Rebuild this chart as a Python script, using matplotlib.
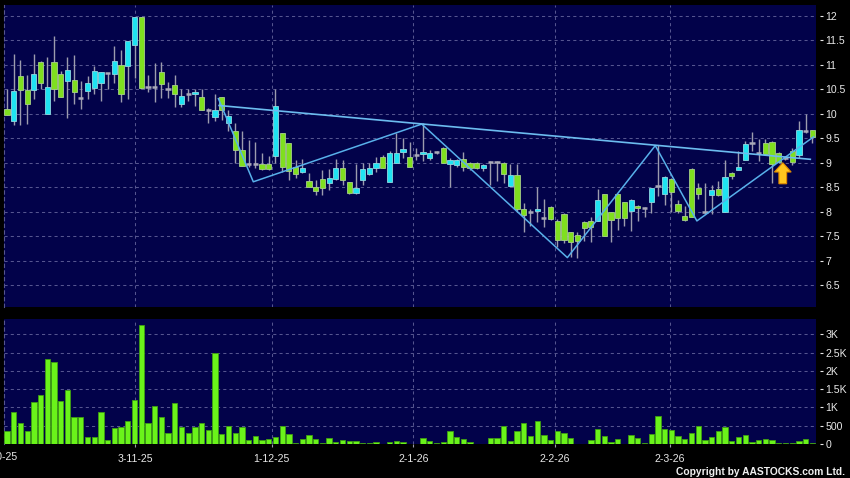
import matplotlib
matplotlib.use("Agg")
import matplotlib.pyplot as plt
import matplotlib.transforms as mtransforms
from matplotlib.patches import FancyArrow
import numpy as np

# ---------------- data ----------------
opens = [10.10, 9.86, 10.78, 10.49, 10.48, 11.05, 10.00, 11.05, 10.81, 10.67,
         10.69, 10.33, 10.47, 10.53, 10.62, 10.84, 10.82, 11.00, 10.98, 11.40,
         11.97, 10.55, 10.55, 10.86, 10.50, 10.59, 10.20, 10.41, 10.41, 10.34,
         10.07, 9.94, 10.34, 9.82, 9.64, 9.25, 8.98, 8.98, 8.98, 8.98,
         9.13, 9.61, 9.40, 8.92, 8.82, 8.62, 8.51, 8.66, 8.58, 8.66,
         8.89, 8.61, 8.38, 8.64, 8.77, 8.89, 9.11, 8.60, 9.00, 9.21,
         9.11, 9.16, 9.17, 9.09, 9.22, 9.30, 8.98, 8.95, 9.08, 9.00,
         9.00, 8.90, 9.01, 9.01, 9.00, 8.52, 8.74, 8.05, 8.00, 8.01,
         7.86, 8.10, 7.80, 7.95, 7.59, 7.52, 7.78, 7.80, 7.80, 8.37,
         7.99, 8.37, 8.19, 8.02, 8.11, 8.07, 8.19, 8.52, 8.37, 8.67,
         8.16, 7.91, 8.88, 8.49, 8.00, 8.35, 8.47, 8.00, 8.79, 8.85,
         9.05, 9.41, 9.20, 9.41, 9.43, 9.20, 9.10, 9.24, 9.16, 9.65,
         9.67]
highs = [10.50, 11.22, 11.10, 10.80, 11.22, 11.08, 11.17, 11.59, 10.88, 11.17,
         11.20, 10.68, 10.77, 10.98, 10.86, 10.84, 11.38, 11.30, 11.48, 11.97,
         11.97, 10.79, 11.03, 11.05, 10.65, 10.80, 10.50, 10.50, 10.50, 10.50,
         10.12, 10.41, 10.34, 10.08, 9.82, 9.64, 9.47, 9.42, 9.20, 9.13,
         10.50, 9.61, 9.40, 9.06, 9.08, 8.79, 8.65, 8.86, 8.88, 9.08,
         9.05, 8.61, 8.98, 9.00, 9.00, 9.12, 9.15, 9.23, 9.60, 9.50,
         9.43, 9.30, 9.81, 9.25, 9.24, 9.33, 9.10, 9.08, 9.22, 9.02,
         9.02, 8.97, 9.03, 9.03, 9.01, 8.98, 8.98, 8.17, 8.06, 8.50,
         8.26, 8.12, 7.84, 7.97, 7.59, 7.58, 7.80, 7.90, 8.46, 8.37,
         8.00, 8.37, 8.19, 8.26, 8.13, 8.09, 8.48, 9.36, 8.73, 8.69,
         8.24, 8.12, 8.90, 8.59, 8.59, 8.55, 8.62, 9.06, 8.81, 9.24,
         9.45, 9.62, 9.49, 9.49, 9.45, 9.22, 9.14, 9.30, 9.85, 10.00,
         9.67]
lows = [9.98, 9.77, 9.77, 9.80, 10.31, 10.50, 10.00, 10.26, 10.35, 9.92,
        10.20, 10.10, 10.31, 10.41, 10.26, 10.50, 10.62, 10.24, 10.31, 10.74,
        10.50, 10.45, 10.24, 10.32, 10.32, 10.14, 10.14, 10.26, 10.16, 10.07,
        9.82, 9.85, 9.88, 9.65, 9.00, 8.94, 8.92, 8.89, 8.85, 8.85,
        8.99, 8.82, 8.65, 8.68, 8.78, 8.51, 8.34, 8.34, 8.44, 8.64,
        8.55, 8.37, 8.36, 8.55, 8.75, 8.82, 8.89, 8.60, 9.00, 9.09,
        8.91, 9.05, 9.03, 9.05, 9.18, 9.00, 8.50, 8.92, 8.83, 8.85,
        8.88, 8.84, 8.55, 8.62, 8.59, 8.50, 8.00, 7.59, 7.70, 7.79,
        7.69, 7.82, 7.28, 7.35, 7.07, 7.06, 7.40, 7.38, 7.80, 7.50,
        7.38, 7.63, 7.70, 7.60, 7.80, 7.90, 7.98, 8.31, 8.14, 8.00,
        7.97, 7.80, 7.90, 8.25, 7.95, 7.95, 8.32, 8.00, 8.66, 8.85,
        9.05, 9.24, 9.03, 9.17, 8.58, 9.00, 9.06, 8.95, 9.10, 9.60,
        9.40]
closes = [9.98, 10.46, 10.49, 10.20, 10.81, 10.64, 10.55, 10.50, 10.35, 10.90,
          10.45, 10.33, 10.62, 10.88, 10.86, 10.84, 11.08, 10.41, 11.48, 11.97,
          10.53, 10.55, 10.55, 10.60, 10.50, 10.41, 10.36, 10.41, 10.45, 10.07,
          10.07, 10.07, 10.07, 9.95, 9.25, 8.94, 8.98, 8.98, 8.88, 8.88,
          10.17, 8.91, 8.84, 8.77, 8.89, 8.51, 8.42, 8.48, 8.68, 8.90,
          8.65, 8.38, 8.49, 8.87, 8.89, 9.00, 8.89, 9.20, 9.20, 9.29,
          8.91, 9.16, 9.22, 9.20, 9.22, 9.00, 9.06, 9.05, 8.92, 8.90,
          8.90, 8.95, 9.01, 9.01, 8.77, 8.74, 8.05, 7.93, 8.00, 8.05,
          7.86, 7.85, 7.43, 7.43, 7.37, 7.40, 7.67, 7.69, 8.24, 7.50,
          7.82, 7.88, 7.88, 8.24, 8.07, 8.07, 8.48, 8.52, 8.71, 8.40,
          8.02, 7.83, 7.90, 8.36, 8.00, 8.45, 8.35, 8.71, 8.73, 8.92,
          9.39, 9.41, 9.20, 9.17, 8.97, 9.02, 9.10, 9.02, 9.67, 9.65,
          9.53]
volumes = [367, 880, 569, 367, 1137, 1339, 2320, 2237, 1165, 1486,
           752, 752, 202, 202, 880, 101, 440, 459, 642, 1210,
           3246, 578, 1027, 752, 303, 1110, 468, 312, 468, 569,
           394, 2503, 275, 495, 303, 459, 101, 220, 110, 128,
           193, 504, 275, 37, 147, 238, 147, 28, 165, 55,
           110, 92, 83, 37, 37, 64, 9, 55, 92, 55,
           9, 9, 160, 92, 20, 46, 348, 183, 138, 64,
           5, 5, 156, 156, 504, 83, 367, 569, 211, 633,
           248, 101, 367, 312, 156, 5, 5, 101, 422, 220,
           64, 138, 5, 257, 174, 37, 284, 761, 403, 376,
           229, 138, 293, 486, 119, 183, 348, 459, 92, 193,
           238, 64, 110, 128, 110, 37, 28, 37, 92, 147,
           28]

pattern_x = [31.5, 36.7, 61.8, 83.5, 96.6, 102.8, 120.2]
pattern_y = [10.31, 8.61, 9.79, 7.06, 9.35, 7.81, 9.53]
neck_x = [31.6, 119.7]
neck_y = [10.17, 9.07]

date_labels = ["2-10-25", "3-11-25", "1-12-25", "2-1-26", "2-2-26", "2-3-26"]
date_pos = [-1.05, 19.07, 39.44, 60.54, 81.66, 98.79]
price_ticks = [6.5, 7, 7.5, 8, 8.5, 9, 9.5, 10, 10.5, 11, 11.5, 12]
price_labels = ["6.5", "7", "7.5", "8", "8.5", "9", "9.5", "10", "10.5", "11", "11.5", "12"]
vol_ticks = [0, 500, 1000, 1500, 2000, 2500, 3000]
vol_labels = ["0", "500", "1K", "1.5K", "2K", "2.5K", "3K"]

# ---------------- style ----------------
plt.rcParams['font.family'] = ['Liberation Sans', 'DejaVu Sans']
BG = '#000000'
PANEL = '#02024a'
GRID = '#55558f'
TXT = '#e8e8e8'
UPC = '#1fe3f2'
DNC = '#7fdf1f'
WICK = '#9c9cae'
LINEC = '#58b0ea'
VOLC = '#6af31a'

W, H = 850, 478
fig = plt.figure(figsize=(W / 100, H / 100), dpi=100, facecolor=BG)

def frac(l, t, r, b):
    return [l / W, 1 - b / H, (r - l) / W, (b - t) / H]

ax = fig.add_axes(frac(4, 5, 816, 307))
axv = fig.add_axes(frac(4, 319, 816, 444), sharex=ax)

n = len(closes)
x = np.arange(n)
o = np.array(opens); c = np.array(closes); h = np.array(highs); lo = np.array(lows)

for a in (ax, axv):
    a.set_facecolor(PANEL)
    for s in ('top', 'bottom', 'right'):
        a.spines[s].set_visible(False)
    a.spines['left'].set_color(GRID)
    a.spines['left'].set_linestyle((0, (3, 3)))
    a.spines['left'].set_linewidth(0.8)
    a.yaxis.tick_right()
    a.spines['right'].set_position(('outward', 3))
    a.tick_params(axis='y', colors=TXT, labelcolor=TXT, length=2.2, width=0.8,
                  pad=1.5, labelsize=7.6, direction='out')
    a.grid(True, color=GRID, linestyle=(0, (3, 3)), linewidth=0.75)
    a.set_axisbelow(True)

ax.set_xlim(-0.45, 120.55)
ax.set_ylim(6.05, 12.225)
ax.set_yticks(price_ticks)
ax.set_yticklabels(price_labels)
ax.set_xticks(date_pos[1:])
ax.tick_params(axis='x', length=0, labelbottom=False)

# wicks
ax.vlines(x, lo, h, color=WICK, linewidth=1.0, zorder=2)
# bodies
up = c > o
dn = c < o
dj = c == o
bw = 0.78
ax.bar(x[up], (c - o)[up], bottom=o[up], width=bw, color=UPC,
       edgecolor='#8fd8e0', linewidth=0.6, zorder=3)
ax.bar(x[dn], (o - c)[dn], bottom=c[dn], width=bw, color=DNC,
       edgecolor='#a8cf8a', linewidth=0.6, zorder=3)
ax.hlines(c[dj], x[dj] - bw / 2, x[dj] + bw / 2, color='#a9a9b8', linewidth=1.8, zorder=3)

# pattern lines
ax.plot(pattern_x, pattern_y, color=LINEC, linewidth=1.1, zorder=4)
ax.plot(neck_x, neck_y, color='#6cbcef', linewidth=1.2, zorder=4)

# arrow
arr = FancyArrow(115.6, 8.57, 0, 0.43, width=1.15, head_width=2.5, head_length=0.19,
                 length_includes_head=True, facecolor='#ffc61e', edgecolor='#e08a00',
                 linewidth=0.8, zorder=6)
ax.add_patch(arr)

# volume
axv.bar(x, volumes, width=0.79, color=VOLC, edgecolor='#3f9e12', linewidth=0.6, zorder=3)
axv.set_ylim(0, 3420)
axv.set_yticks(vol_ticks)
axv.set_yticklabels(vol_labels)
axv.set_xticks(date_pos[1:])
axv.set_xticklabels(date_labels[1:])
axv.tick_params(axis='x', colors=WICK, labelcolor=TXT, length=2.5, width=0.8,
                pad=5, labelsize=7.6, direction='out')
trans = mtransforms.blended_transform_factory(axv.transData, axv.transAxes)
axv.text(date_pos[0], -0.066, date_labels[0], transform=trans, ha='center', va='top',
         color=TXT, fontsize=7.6, clip_on=False)

fig.text(845 / W, 1 - 472 / H, "Copyright by AASTOCKS.com Ltd.", ha='right', va='center',
         color='#f0f0f0', fontsize=7.4, fontweight='bold')

fig.savefig("out.png", dpi=100, facecolor=BG)
